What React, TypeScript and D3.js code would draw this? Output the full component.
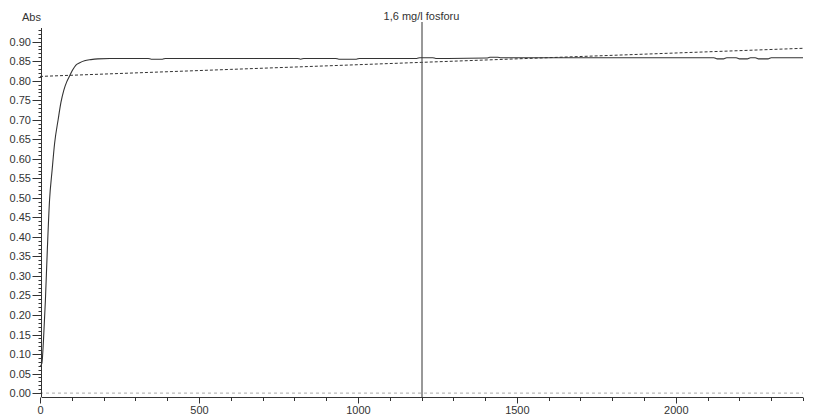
import * as d3 from 'd3';
import { useEffect, useRef } from 'react';

// absorbance readings (time in s)
const timeS = [0, 6, 11, 17, 23, 30, 38, 46, 57, 66, 75, 84, 93, 103, 113, 125, 140, 160, 182, 220, 340, 350, 385, 395, 600, 810, 820, 830, 930, 940, 995, 1005, 1185, 1195, 1235, 1245, 1405, 1415, 1440, 1450, 1700, 2120, 2130, 2150, 2160, 2190, 2200, 2225, 2235, 2250, 2260, 2290, 2300, 2400];
const absSolid = [0.068, 0.077, 0.136, 0.238, 0.366, 0.494, 0.57, 0.64, 0.70, 0.745, 0.776, 0.797, 0.812, 0.828, 0.840, 0.846, 0.851, 0.854, 0.856, 0.857, 0.857, 0.855, 0.855, 0.857, 0.857, 0.857, 0.855, 0.857, 0.857, 0.855, 0.855, 0.857, 0.857, 0.859, 0.859, 0.857, 0.858, 0.860, 0.860, 0.859, 0.859, 0.859, 0.856, 0.856, 0.859, 0.859, 0.856, 0.856, 0.859, 0.859, 0.856, 0.856, 0.859, 0.859];
const timeRef = [0, 600, 1200, 1800, 2400];
const absRef = [0.811, 0.829, 0.847, 0.865, 0.883];
const yTicks = [0, 0.05, 0.1, 0.15, 0.2, 0.25, 0.3, 0.35, 0.4, 0.45, 0.5, 0.55, 0.6, 0.65, 0.7, 0.75, 0.8, 0.85, 0.9];
const xTicks = [0, 500, 1000, 1500, 2000];
const markerT = 1200;
const markerLabel = '1,6 mg/l fosforu';

const W = 830, H = 417;

const App = () => {
  const svgRef = useRef(null);

  useEffect(() => {
    const svg = d3.select(svgRef.current);
    svg.selectAll('*').remove();
    const x = d3.scaleLinear().domain([0, 2400]).range([40, 803]);
    const y = d3.scaleLinear().domain([-0.01, 0.935]).range([397, 28]);
    const font = "'Liberation Sans', Arial, sans-serif";
    const ink = '#333';

    // zero baseline
    svg.append('line').attr('x1', x(0)).attr('x2', x(2400)).attr('y1', y(0)).attr('y2', y(0))
      .attr('stroke', '#aaa').attr('stroke-dasharray', '3,3');

    // reference (dashed) line
    const line = d3.line<number>();
    svg.append('path')
      .attr('d', line(timeRef.map((t, i) => [x(t), y(absRef[i])])))
      .attr('fill', 'none').attr('stroke', ink).attr('stroke-dasharray', '3,2');

    // measured curve
    svg.append('path')
      .attr('d', line.curve(d3.curveMonotoneX)(timeS.map((t, i) => [x(t), y(absSolid[i])])))
      .attr('fill', 'none').attr('stroke', ink).attr('stroke-width', 1.1);

    // marker
    svg.append('line').attr('x1', x(markerT) + 0.5).attr('x2', x(markerT) + 0.5).attr('y1', 22).attr('y2', 397)
      .attr('stroke', ink);
    svg.append('text').attr('x', x(markerT)).attr('y', 20).attr('text-anchor', 'middle')
      .attr('font-family', font).attr('font-size', 11).attr('fill', ink).text(markerLabel);

    // y axis
    const ax = 41.5;
    svg.append('line').attr('x1', ax).attr('x2', ax).attr('y1', 28).attr('y2', 397).attr('stroke', ink);
    d3.range(0, 94).forEach(i => {
      const v = i / 100;
      const major = i % 5 === 0;
      svg.append('line').attr('x1', ax - (major ? 9 : 3)).attr('x2', ax)
        .attr('y1', Math.round(y(v)) + 0.5).attr('y2', Math.round(y(v)) + 0.5).attr('stroke', ink);
    });
    yTicks.forEach(v => {
      svg.append('text').attr('x', 31).attr('y', y(v) + 4).attr('text-anchor', 'end')
        .attr('font-family', font).attr('font-size', 11).attr('fill', ink).text(v.toFixed(2));
    });
    svg.append('text').attr('x', 41).attr('y', 21).attr('text-anchor', 'end')
      .attr('font-family', font).attr('font-size', 11).attr('fill', ink).text('Abs');

    // x axis
    const ay = 397.5;
    svg.append('line').attr('x1', ax).attr('x2', x(2400)).attr('y1', ay).attr('y2', ay).attr('stroke', ink);
    d3.range(0, 2401, 100).forEach(t => {
      const major = t % 500 === 0;
      svg.append('line').attr('x1', Math.round(x(t)) + 0.5).attr('x2', Math.round(x(t)) + 0.5)
        .attr('y1', ay).attr('y2', ay + (major ? 6 : 3.5)).attr('stroke', ink);
    });
    xTicks.forEach(t => {
      svg.append('text').attr('x', x(t) + 0.5).attr('y', 414).attr('text-anchor', 'middle')
        .attr('font-family', font).attr('font-size', 11).attr('fill', ink).text(String(t));
    });
  }, []);

  return <svg ref={svgRef} width={W} height={H} style={{ position: 'absolute', left: 0, top: 0, background: '#fff' }}></svg>;
};

export default App;
